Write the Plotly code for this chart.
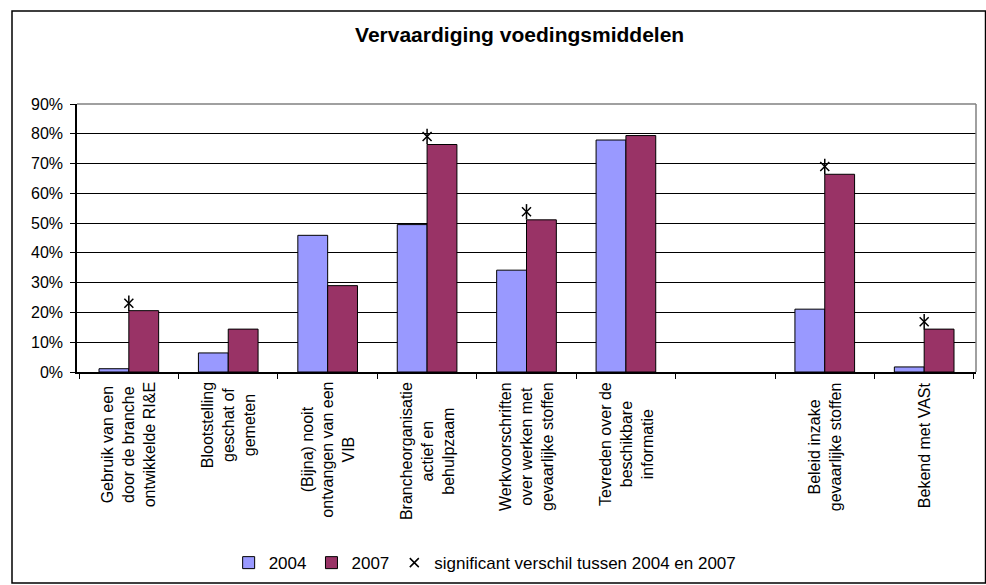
import plotly.graph_objects as go

categories = [
    "Gebruik van een<br>door de branche<br>ontwikkelde RI&amp;E",
    "Blootstelling<br>geschat of<br>gemeten",
    "(Bijna) nooit<br>ontvangen van een<br>VIB",
    "Brancheorganisatie<br>actief en<br>behulpzaam",
    "Werkvoorschriften<br>over werken met<br>gevaarlijke stoffen",
    "Tevreden over de<br>beschikbare<br>informatie",
    " ",
    "Beleid inzake<br>gevaarlijke stoffen",
    "Bekend met VASt",
]
v2004 = [0.011, 0.064, 0.459, 0.495, 0.342, 0.779, None, 0.211, 0.017]
v2007 = [0.206, 0.144, 0.290, 0.764, 0.511, 0.794, None, 0.664, 0.144]
# positions of the "significant" star marks
signif = [0.231, None, None, 0.791, 0.538, None, None, 0.690, 0.169]

font = "Arial, Liberation Sans, sans-serif"

fig = go.Figure()
fig.add_trace(go.Bar(x=categories, y=v2004, name="2004",
                     marker=dict(color="#9999FF", line=dict(color="black", width=1))))
fig.add_trace(go.Bar(x=categories, y=v2007, name="2007",
                     marker=dict(color="#993366", line=dict(color="black", width=1))))
fig.add_trace(go.Scatter(x=categories, y=signif, mode="markers",
                         name="significant verschil tussen 2004 en 2007",
                         legendgroup="sig",
                         marker=dict(symbol="x-thin-open", size=9, color="black",
                                     line=dict(color="black", width=1.5))))
fig.add_trace(go.Scatter(x=categories, y=signif, mode="markers",
                         legendgroup="sig", showlegend=False,
                         marker=dict(symbol="line-ns-open", size=11, color="black",
                                     line=dict(color="black", width=1.5))))

for c in categories:
    if c.strip():
        fig.add_annotation(x=c, xref="x", y=0, yref="paper", yshift=-8,
                           text=c, textangle=-90, showarrow=False,
                           yanchor="top", align="center",
                           font=dict(family=font, size=16, color="black"))

# chart frame and plot-area border
fig.add_shape(type="rect", xref="paper", yref="paper",
              x0=-0.0723, x1=1.0106, y0=-0.787, y1=1.347,
              line=dict(color="black", width=1.5), layer="below")
fig.add_shape(type="line", xref="paper", yref="paper", x0=0, x1=1, y0=1, y1=1,
              line=dict(color="#808080", width=1.5))
fig.add_shape(type="line", xref="paper", yref="paper", x0=1, x1=1, y0=0, y1=1,
              line=dict(color="#808080", width=1.5))

fig.update_layout(
    width=986, height=585,
    margin=dict(l=77, r=10, t=104, b=213, autoexpand=False),
    paper_bgcolor="white", plot_bgcolor="white",
    barmode="group", bargap=0.4, bargroupgap=0,
    font=dict(family=font, size=16, color="black"),
    title=dict(text="<b>Vervaardiging voedingsmiddelen</b>", x=0.527, y=0.94,
               xanchor="center", yanchor="middle",
               font=dict(family=font, size=21, color="black")),
    legend=dict(orientation="h", x=0.454, y=-0.713, xanchor="center", yanchor="middle",
                font=dict(family=font, size=17), itemwidth=30,
                bgcolor="rgba(0,0,0,0)"),
    showlegend=True,
)
fig.update_xaxes(type="category", showticklabels=False, showline=True,
                 linecolor="black", linewidth=1.5, ticks="outside",
                 tickson="boundaries", ticklen=5, tickcolor="black",
                 showgrid=False)
fig.update_yaxes(range=[0, 0.9], dtick=0.1, tickformat=".0%", showline=True,
                 linecolor="black", linewidth=1.5, ticks="outside", ticklen=5,
                 tickcolor="black", showgrid=True, gridcolor="black", gridwidth=1,
                 zeroline=False, ticklabelstandoff=4)

# the page's default body margin would shift the chart by 8px
fig.write_html("out.html", config={"displayModeBar": False},
               post_script="document.body.style.margin='0px';")
